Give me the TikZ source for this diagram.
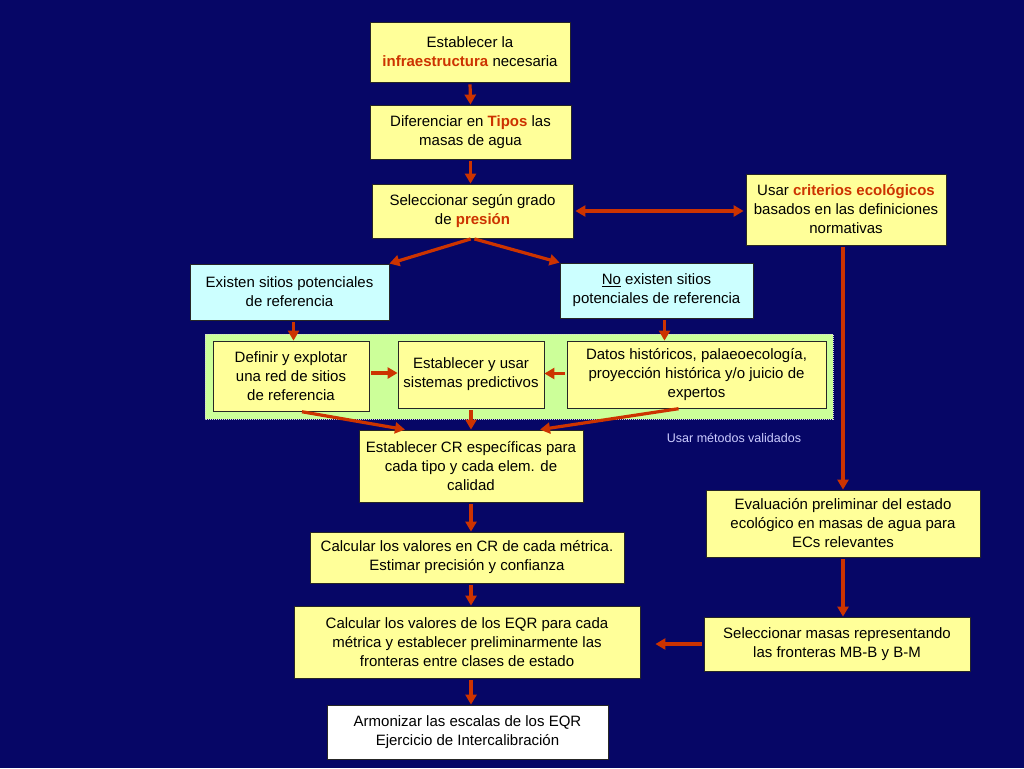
\documentclass[tikz,border=0pt]{standalone}
\usepackage{fontspec}
\setmainfont{Liberation Sans}
\usetikzlibrary{arrows.meta,calc}
\definecolor{bgc}{RGB}{6,6,102}
\definecolor{ylw}{RGB}{255,255,153}
\definecolor{cyn}{RGB}{204,255,255}
\definecolor{grn}{RGB}{204,255,153}
\definecolor{arrc}{RGB}{204,51,0}
\definecolor{hlc}{RGB}{204,51,0}
\definecolor{lbl}{RGB}{204,204,255}
\newcommand\hlred[1]{\textbf{\color{hlc}#1}}
\begin{document}
\begin{tikzpicture}[x={(1pt,0)},y={(0,-1pt)},
  box/.style={draw=black!85, line width=0.8pt, align=center, inner sep=0pt,
    font=\fontsize{15}{19}\selectfont, text=black},
  ybox/.style={box, fill=ylw},
  cbox/.style={box, fill=cyn},
  wbox/.style={box, fill=white},
  sz/.style 2 args={minimum width=#1pt, minimum height=#2pt},
  arr/.style={draw=arrc, line width=3.2pt, -{Triangle[length=10pt,width=11pt]}, shorten <=2pt},
  arrtwo/.style={draw=arrc, line width=3.2pt, {Triangle[length=10pt,width=11pt]}-{Triangle[length=10pt,width=11pt]}, shorten <=2pt, shorten >=2pt},
  band/.style={fill=grn, draw=white!70!gray, densely dotted, line width=1pt},
  lab/.style={text=lbl, font=\fontsize{12.5}{15}\selectfont, inner sep=0pt}
]
\fill[bgc] (0,0) rectangle (1024,768);
\useasboundingbox (0,0) rectangle (1024,768);

% green band
\path[band] (205,334) rectangle (833,419);

% nodes
\node[ybox, sz={200}{60}] (B1) at (470,52) {Establecer la\\\hlred{infraestructura} necesaria};
\node[ybox, sz={201}{54}] (B2) at (470.5,132) {Diferenciar en \hlred{Tipos} las\\masas de agua};
\node[ybox, sz={201}{54}] (B3) at (472.5,211) {Seleccionar según grado\\de \hlred{presión}};
\node[ybox, sz={200}{71}] (B4) at (846,209.5) {Usar \hlred{criterios ecológicos}\\basados en las definiciones\\normativas};
\node[cbox, sz={199}{56}] (C1) at (289.5,292) {Existen sitios potenciales\\de referencia};
\node[cbox, sz={193}{55}] (C2) at (656.5,290.5) {\underline{No} existen sitios\\potenciales de referencia};
\node[ybox, sz={156}{70}] (G1) at (291,376) {Definir y explotar\\una red de sitios\\de referencia};
\node[ybox, sz={146}{67}] (G2) at (471,374.5) {Establecer y usar\\sistemas predictivos};
\node[ybox, sz={259}{67}] (G3) at (696.5,374.5) {Datos históricos, palaeoecología,\\proyección histórica y/o juicio de\\expertos};
\node[ybox, sz={224}{72}] (B5) at (471,466) {Establecer CR específicas para\\cada tipo y cada elem. de\\calidad};
\node[lab] (L1) at (734,438) {Usar métodos validados};
\node[ybox, sz={314}{51}] (B6) at (467,557.5) {Calcular los valores en CR de cada métrica.\\Estimar precisión y confianza};
\node[ybox, sz={346}{72}] (B7) at (467,642) {Calcular los valores de los EQR para cada\\métrica y establecer preliminarmente las\\fronteras entre clases de estado};
\node[wbox, sz={281}{54}] (B8) at (467.5,732) {Armonizar las escalas de los EQR\\Ejercicio de Intercalibración};
\node[ybox, sz={274}{67}] (B9) at (843,523.5) {Evaluación preliminar del estado\\ecológico en masas de agua para\\ECs relevantes};
\node[ybox, sz={266}{54}] (B10) at (837,644) {Seleccionar masas representando\\las fronteras MB-B y B-M};

% connectors
\draw[arr] (B1.south) -- (B2.north);
\draw[arr] (B2.south) -- (B2.south |- B3.north);
\draw[arrtwo] (B3.east) -- (B3.east -| B4.west);
\draw[arr] (B3.south) -- (C1.north east);
\draw[arr] (B3.south) -- (C2.north west);
\draw[arr] ([xshift=4pt]C1.south) -- ([xshift=4pt]C1.south |- G1.north);
\draw[arr] ([xshift=8pt]C2.south) -- ([xshift=8pt]C2.south |- G3.north);
\draw[arr] ([yshift=3pt]G1.east) -- ([yshift=3pt]G1.east -| G2.west);
\draw[arr] ([yshift=1pt]G3.west) -- ([yshift=1pt]G3.west -| G2.east);
\draw[arr] ([xshift=9pt]G1.south) -- ([xshift=-66pt]B5.north);
\draw[arr] (G2.south) -- (G2.south |- B5.north);
\draw[arr] ([xshift=-16pt]G3.south) -- ([xshift=69pt]B5.north);
\draw[arr] (B5.south) -- (B5.south |- B6.north);
\draw[arr] (B5.south |- B6.south) -- (B5.south |- B7.north);
\draw[arr] (B5.south |- B7.south) -- (B5.south |- B8.north);
\draw[arr] (B9.north |- B4.south) -- (B9.north);
\draw[arr] (B9.south) -- (B9.south |- B10.north);
\draw[arr, shorten >=15pt] (B10.west) -- (B10.west -| B7.east);
\end{tikzpicture}
\end{document}
